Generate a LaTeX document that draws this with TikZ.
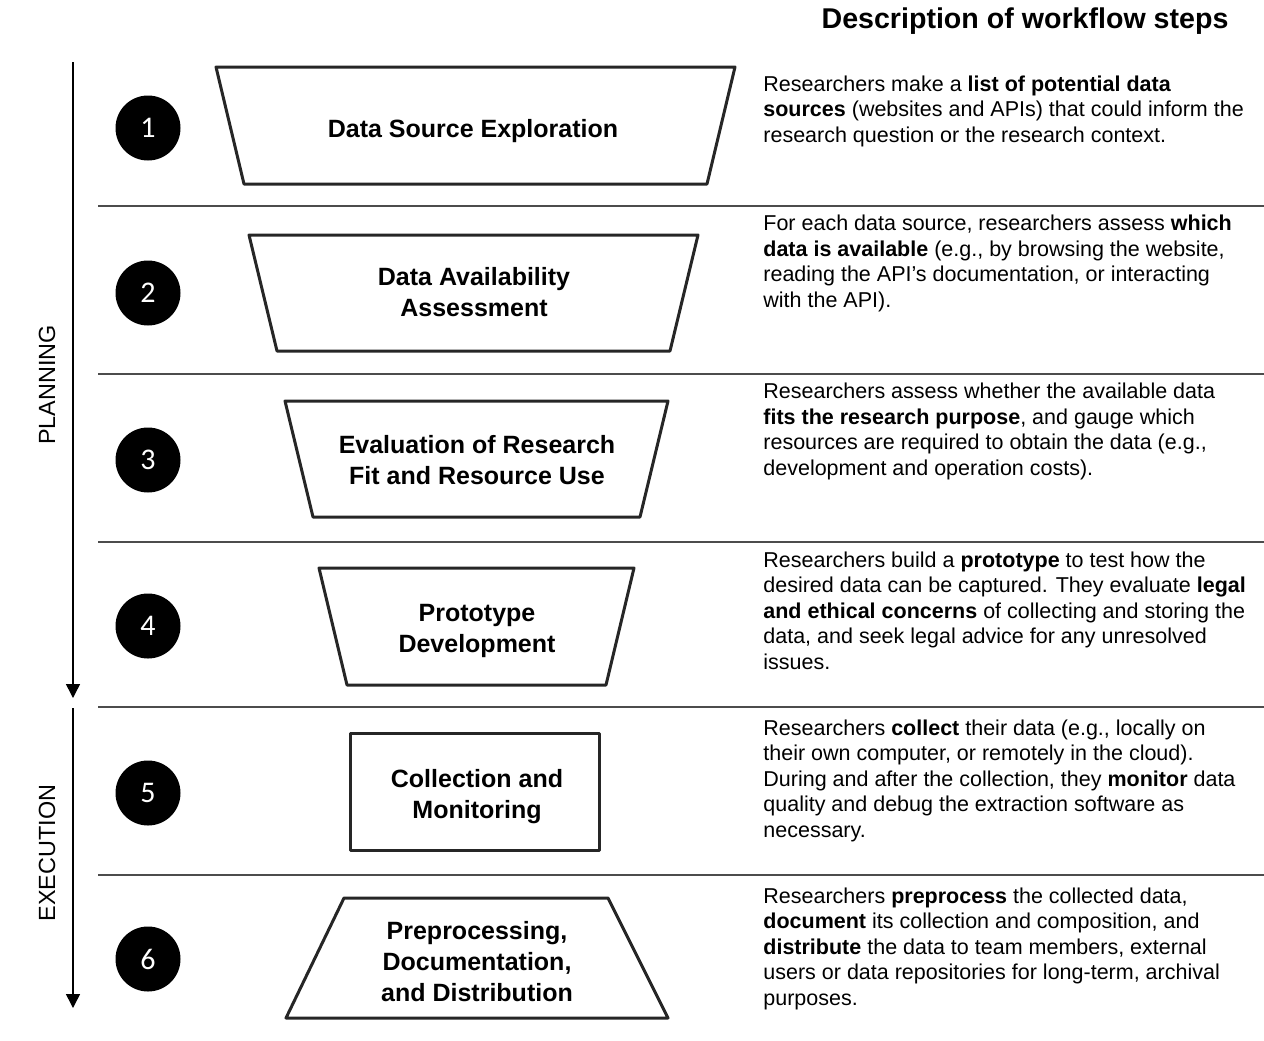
\documentclass[tikz,border=0pt]{standalone}
\usepackage{fontspec}
\setmainfont{Liberation Sans}
\newfontfamily\numfont{Carlito}
\usetikzlibrary{arrows.meta}
\tikzset{
  stepshape/.style={draw=black!85,line width=1.5pt,line join=round},
  steptext/.style={font=\fontsize{12.5}{15.5}\selectfont\bfseries,align=center},
  desc/.style={anchor=base west,inner sep=0pt,align=left,font=\fontsize{10.75}{12.75}\selectfont},
  sepline/.style={draw=black!70,line width=1pt},
  phase/.style={draw=black,line width=0.75pt,-{Triangle[width=7pt,length=7pt]}}
}
\begin{document}
\begin{tikzpicture}[x=0.5pt,y=-0.5pt]
  \useasboundingbox (0,0) rectangle (1264,1040);
  % title
  \node[font=\fontsize{14.3}{17}\selectfont\bfseries] (title) at (1025,21) {Description of workflow steps};
  % phases
  \coordinate (p1) at (73,62);
  \coordinate (p2) at (73,698);
  \coordinate (e1) at (73,708);
  \coordinate (e2) at (73,1008);
  \draw[phase] (p1) -- (p2);
  \draw[phase] (e1) -- (e2);
  \node[rotate=90,font=\fontsize{11.7}{14}\selectfont] (plan) at (47,385) {PLANNING};
  \node[rotate=90,font=\fontsize{11.7}{14}\selectfont] (exec) at (47,853) {EXECUTION};
  % separators
  \begin{scope}[every path/.style={sepline}]
    \draw (98,206) -- (1264,206);
    \draw (98,374) -- (1264,374);
    \draw (98,542) -- (1264,542);
    \draw (98,707) -- (1264,707);
    \draw (98,875) -- (1264,875);
  \end{scope}
  % numbers
  \begin{scope}[every node/.style={circle,fill=black,text=white,minimum size=32.5pt,inner sep=0pt,font=\numfont\fontsize{15}{18}\selectfont}]
    \node (n1) at (148,128) {1};
    \node (n2) at (148,293) {2};
    \node (n3) at (148,460) {3};
    \node (n4) at (148,626) {4};
    \node (n5) at (148,793) {5};
    \node (n6) at (148,959) {6};
  \end{scope}
  % steps
  \draw[stepshape] (216,67) -- (735,67) -- (707,184) -- (244,184) -- cycle;
  \draw[stepshape] (249,235) -- (698,235) -- (670,351) -- (277,351) -- cycle;
  \draw[stepshape] (285,401) -- (668,401) -- (640,517) -- (313,517) -- cycle;
  \draw[stepshape] (319,568) -- (634,568) -- (606,685) -- (347,685) -- cycle;
  \draw[stepshape] (350,733) rectangle (599,850);
  \draw[stepshape] (344,898) -- (608,898) -- (668,1018) -- (286,1018) -- cycle;
  \begin{scope}[every node/.style={steptext}]
    \node (s1) at (473,131) {Data Source Exploration};
    \node (s2) at (474,292) {Data Availability\\Assessment};
    \node (s3) at (477,460) {Evaluation of Research\\Fit and Resource Use};
    \node (s4) at (477,631) {Prototype\\Development};
    \node (s5) at (477,797) {Collection and\\Monitoring};
    \node (s6) at (477,962) {Preprocessing,\\Documentation,\\and Distribution};
  \end{scope}
  % descriptions
  \begin{scope}[every node/.style={desc}]
    \node (d1) at (763,142) {Researchers make a \textbf{list of potential data}\\\textbf{sources} (websites and APIs) that could inform the\\research question or the research context.};
    \node (d2) at (763,307) {For each data source, researchers assess \textbf{which}\\\textbf{data is available} (e.g., by browsing the website,\\reading the API’s documentation, or interacting\\with the API).};
    \node (d3) at (763,475) {Researchers assess whether the available data\\\textbf{fits the research purpose}, and gauge which\\resources are required to obtain the data (e.g.,\\development and operation costs).};
    \node (d4) at (763,669) {Researchers build a \textbf{prototype} to test how the\\desired data can be captured. They evaluate \textbf{legal}\\\textbf{and ethical concerns} of collecting and storing the\\data, and seek legal advice for any unresolved\\issues.};
    \node (d5) at (763,837) {Researchers \textbf{collect} their data (e.g., locally on\\their own computer, or remotely in the cloud).\\During and after the collection, they \textbf{monitor} data\\quality and debug the extraction software as\\necessary.};
    \node (d6) at (763,1005) {Researchers \textbf{preprocess} the collected data,\\\textbf{document} its collection and composition, and\\\textbf{distribute} the data to team members, external\\users or data repositories for long-term, archival\\purposes.};
  \end{scope}
\end{tikzpicture}
\end{document}
